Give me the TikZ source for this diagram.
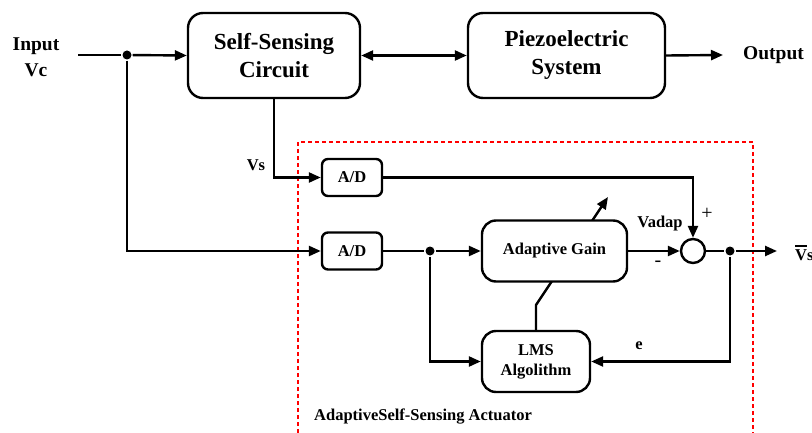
\documentclass[tikz,border=0pt]{standalone}
\usepackage{fontspec}
\setmainfont{Liberation Serif}
\usetikzlibrary{arrows.meta}
\begin{document}
\begin{tikzpicture}[x=1pt,y=-1pt,
  line width=2.4pt,
  arr/.style={-{Triangle[length=12pt,width=10pt]}},
  bigbox/.style={draw,rounded corners=15pt,fill=white,minimum width=#1,inner sep=0pt,align=center,font=\fontsize{23}{28}\selectfont\bfseries},
  smallbox/.style={draw,rounded corners=6pt,fill=white,minimum width=60pt,minimum height=37pt,inner sep=0pt,align=center,font=\fontsize{16.5}{20}\selectfont\bfseries},
  midbox/.style={draw,rounded corners=14pt,fill=white,minimum height=61pt,inner sep=0pt,align=center,font=\fontsize{16.5}{20}\selectfont\bfseries},
  lbl/.style={inner sep=0pt,font=\fontsize{16.5}{20}\selectfont\bfseries},
  signlbl/.style={inner sep=0pt,font=\fontsize{20}{24}\selectfont},
  biglbl/.style={inner sep=0pt,align=center,font=\fontsize{19.5}{26}\selectfont\bfseries},
  dotn/.style={circle,fill=black,inner sep=0pt,minimum size=9pt}]
\useasboundingbox (0,0) rectangle (812,433);
% dashed frame
\draw[red,line width=2pt,dash pattern=on 4pt off 3pt] (298,433) -- (298,142) -- (753,142) -- (753,433);
% nodes
\node[bigbox=172pt,minimum height=85pt] (ssc) at (274,55.5) {Self-Sensing\\Circuit};
\node[bigbox=197pt,minimum height=85pt] (pz) at (566.5,55.5) {Piezoelectric\\System};
\node[smallbox] (ad1) at (352,177.5) {A/D};
\node[smallbox] (ad2) at (352,251) {A/D};
\node[midbox,minimum width=108pt] (lms) at (536,361.5) {LMS\\Algolithm};
\coordinate (kink) at (536,305);
\coordinate (tip) at (608,197);
\draw[arr] (lms.north) -- (kink) -- (tip);
\node[midbox,minimum width=145pt] (ag) at (554.5,251) {Adaptive Gain};
\node[draw,circle,fill=white,minimum size=24pt,inner sep=0pt] (sum) at (693,251) {};
\node[dotn] (d1) at (127,55) {};
\node[dotn] (d2) at (430,251) {};
\node[dotn] (d3) at (730,251) {};
\coordinate (in) at (78,55);
\coordinate (out) at (723,55);
\coordinate (vsend) at (777,251);
% labels
\node[biglbl] (inl) at (36,57) {Input\\Vc};
\node[biglbl,anchor=west] (outl) at (742,55) {Output};
\node[lbl] (vsl) at (256,165) {Vs};
\node[lbl] (vad) at (660,224) {Vadap};
\node[signlbl] (plus) at (707,214) {+};
\node[signlbl] (minus) at (658,264) {-};
\node[lbl] (el) at (639,346) {e};
\node[lbl,anchor=west] (vbar) at (794,253) {{\setbox0\hbox{V}\rlap{\rule[\dimexpr\ht0+3pt\relax]{\wd0}{1.3pt}}\box0}s};
\node[lbl,anchor=west] (title) at (313,417) {AdaptiveSelf-Sensing Actuator};
% connectors
\draw (in) -- (d1);
\draw[arr] (d1) -- (ssc.west);
\draw[{Triangle[length=12pt,width=10pt]}-{Triangle[length=12pt,width=10pt]}] (ssc.east) -- (pz.west);
\draw[arr] (pz.east) -- (out);
\draw[arr] (d1) |- (ad2.west);
\draw[arr] (ssc.south) |- (ad1.west);
\draw[arr] (ad1.east) -| (sum.north);
\draw (ad2.east) -- (d2);
\draw[arr] (d2) -- (ag.west);
\draw[arr] (ag.east) -- (sum.west);
\draw (sum.east) -- (d3);
\draw[arr] (d3) -- (vsend);
\draw[arr] (d2) |- (lms.west);
\draw[arr] (d3) |- (lms.east);
\end{tikzpicture}
\end{document}
